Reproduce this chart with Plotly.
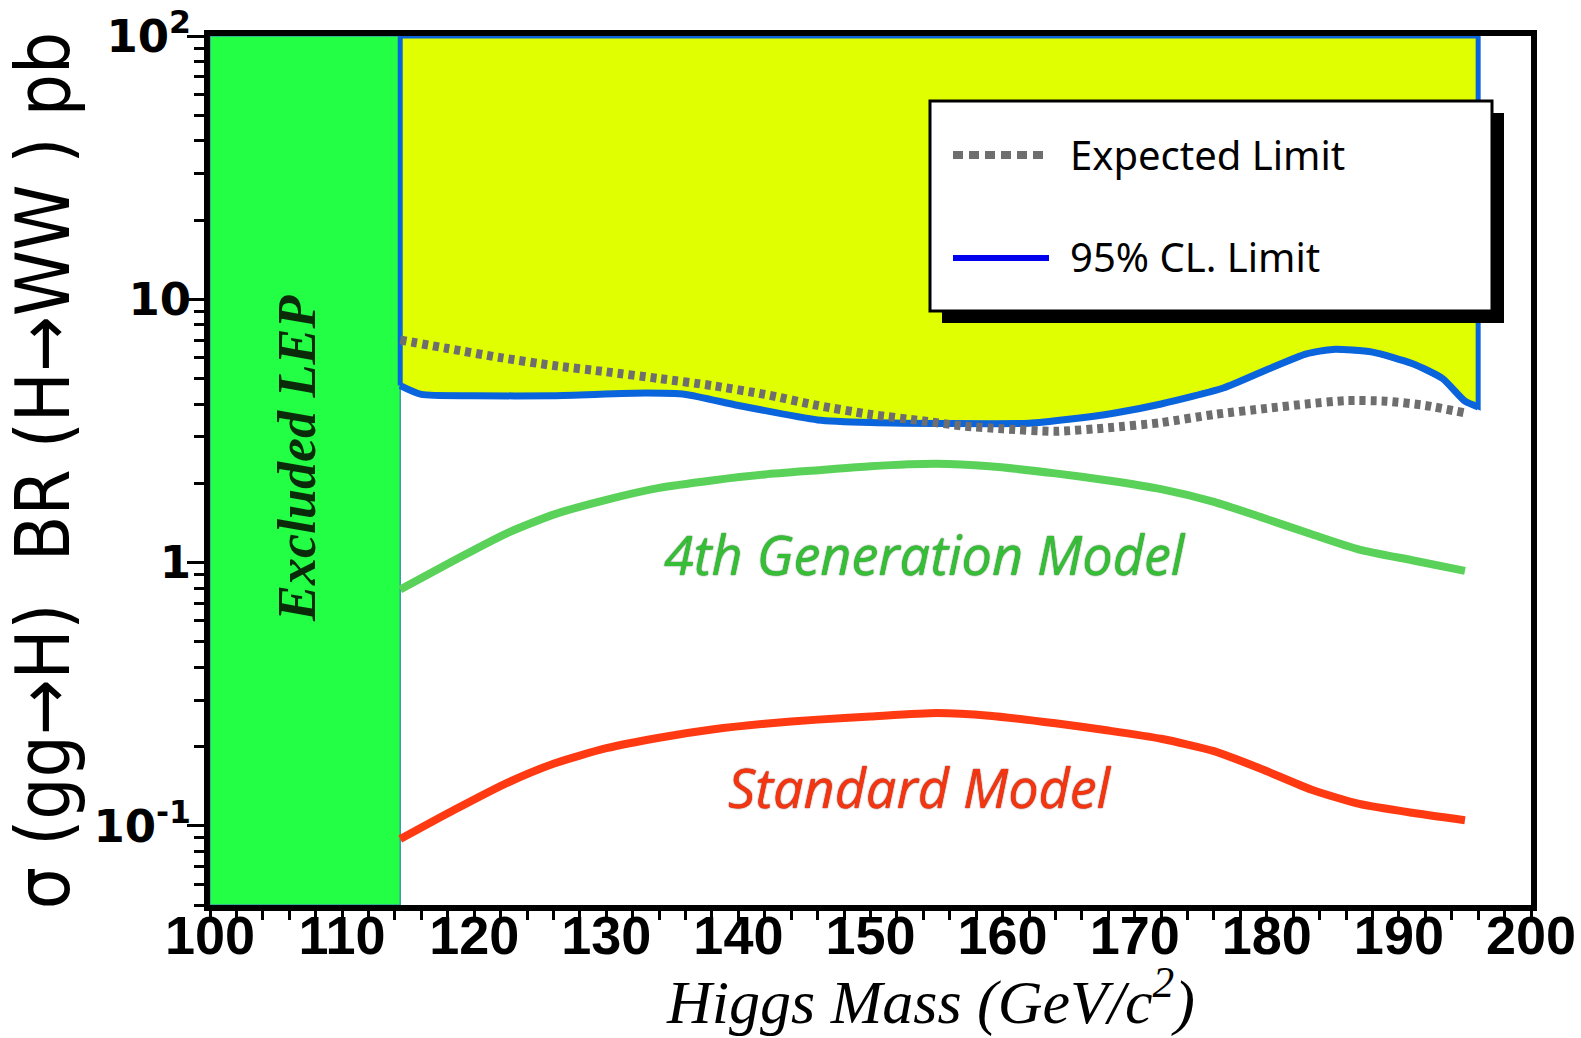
import plotly.graph_objects as go

# ---------------- data ----------------
lep_limit = 114.4          # LEP exclusion (GeV/c^2)
search_end = 196.0         # end of the excluded (yellow) region
x_range = [100, 200]
y_range = [0.05, 100]

obs_mass = [114.4, 116, 120, 126, 133, 136, 140, 146, 150, 156, 162, 165, 168.4,
            172, 176.7, 180, 183, 185, 188, 191, 193.3, 195, 196]
obs_limit = [4.7, 4.35, 4.3, 4.3, 4.4, 4.35, 3.95, 3.48, 3.4, 3.37, 3.38, 3.5, 3.69,
             4.0, 4.6, 5.4, 6.2, 6.45, 6.3, 5.7, 5.0, 4.1, 3.9]

exp_mass = [114.4, 118, 122, 126, 130, 134, 138, 142, 146, 150, 154, 157, 160, 164,
            168, 172, 176, 180, 183, 186, 189, 192, 195]
exp_limit = [7.0, 6.5, 6.0, 5.6, 5.3, 5.0, 4.7, 4.35, 3.95, 3.65, 3.45, 3.3, 3.22, 3.15,
             3.25, 3.4, 3.65, 3.85, 4.0, 4.12, 4.1, 3.95, 3.7]

model_mass = [114.4, 118.5, 122.3, 126, 130, 134, 138, 142, 146, 150, 155, 159, 164,
              168, 172, 176, 179.5, 183.4, 187, 191, 195]
fourth_gen = [0.79, 1.02, 1.28, 1.52, 1.73, 1.92, 2.05, 2.16, 2.24, 2.32, 2.37, 2.32,
              2.18, 2.05, 1.9, 1.7, 1.49, 1.28, 1.12, 1.02, 0.93]
standard_model = [0.089, 0.115, 0.144, 0.172, 0.197, 0.216, 0.232, 0.244, 0.253, 0.26,
                  0.268, 0.262, 0.245, 0.23, 0.214, 0.192, 0.165, 0.137, 0.121, 0.112,
                  0.105]

y_tickvals = [0.1, 1, 10, 100]
y_ticktext = ["10<sup>-1</sup>", "1", "10", "10<sup>2</sup>"]
x_tickvals = [100, 110, 120, 130, 140, 150, 160, 170, 180, 190, 200]

# ---------------- layout geometry ----------------
W, H = 1581, 1038
PL, PR, PT, PB = 210, 1531, 36, 905


def px(x):
    return (x - PL) / (PR - PL)


def py(y):
    return 1 - (y - PT) / (PB - PT)


fig = go.Figure()

# LEP excluded region
fig.add_trace(go.Scatter(
    x=[x_range[0], lep_limit, lep_limit, x_range[0], x_range[0]],
    y=[y_range[0], y_range[0], y_range[1], y_range[1], y_range[0]],
    fill="toself", fillcolor="#22ff44", mode="lines",
    line=dict(color="#3a9aa8", width=1.5), showlegend=False, hoverinfo="skip"))

# excluded region above observed limit
fig.add_trace(go.Scatter(
    x=obs_mass + [search_end, lep_limit, lep_limit],
    y=obs_limit + [y_range[1], y_range[1], obs_limit[0]],
    fill="toself", fillcolor="#e0ff00", mode="lines",
    line=dict(color="#0a64dc", width=5), showlegend=False, hoverinfo="skip"))

# observed limit
fig.add_trace(go.Scatter(
    x=obs_mass, y=obs_limit, mode="lines", name="95% CL. Limit",
    line=dict(color="#0a64dc", width=7, shape="spline", smoothing=0.6),
    showlegend=False))

# expected limit
fig.add_trace(go.Scatter(
    x=exp_mass, y=exp_limit, mode="lines", name="Expected Limit",
    line=dict(color="#6e6e6e", width=9, dash="6px,5px", shape="spline", smoothing=0.6),
    showlegend=False))

# 4th generation model
fig.add_trace(go.Scatter(
    x=model_mass, y=fourth_gen, mode="lines", name="4th Generation Model",
    line=dict(color="#5ad25a", width=8, shape="spline", smoothing=0.6),
    showlegend=False))

# Standard model
fig.add_trace(go.Scatter(
    x=model_mass, y=standard_model, mode="lines", name="Standard Model",
    line=dict(color="#ff3a12", width=8, shape="spline", smoothing=0.6),
    showlegend=False))

shapes = []
annotations = []

# legend box with shadow
shapes.append(dict(type="rect", xref="paper", yref="paper",
                   x0=px(942), x1=px(1504), y0=py(323), y1=py(113),
                   fillcolor="black", line=dict(width=0), layer="above"))
shapes.append(dict(type="rect", xref="paper", yref="paper",
                   x0=px(930), x1=px(1492), y0=py(311), y1=py(101),
                   fillcolor="white", line=dict(color="black", width=3), layer="above"))
shapes.append(dict(type="line", xref="paper", yref="paper",
                   x0=px(953), x1=px(1049), y0=py(155), y1=py(155),
                   line=dict(color="#6e6e6e", width=8, dash="10px,6px"), layer="above"))
shapes.append(dict(type="line", xref="paper", yref="paper",
                   x0=px(953), x1=px(1049), y0=py(258), y1=py(258),
                   line=dict(color="#0000ee", width=6), layer="above"))
legend_font = dict(family="Noto Sans, Open Sans, sans-serif", size=40, color="black")
annotations.append(dict(x=px(1068), y=py(155), xref="paper", yref="paper",
                        text="Expected Limit", showarrow=False, xanchor="left",
                        yanchor="middle", font=legend_font))
annotations.append(dict(x=px(1068), y=py(256), xref="paper", yref="paper",
                        text="95% CL. Limit", showarrow=False, xanchor="left",
                        yanchor="middle", font=legend_font))

# curve labels
annotations.append(dict(x=px(925), y=py(554), xref="paper", yref="paper",
                        text="<i>4th Generation Model</i>", showarrow=False,
                        xanchor="center", yanchor="middle",
                        font=dict(family="Open Sans, Noto Sans, sans-serif", size=54,
                                  color="#36bf36",
                                  shadow="0px 0px 1.5px #0b4d0b")))
annotations.append(dict(x=px(920), y=py(787), xref="paper", yref="paper",
                        text="<i>Standard Model</i>", showarrow=False,
                        xanchor="center", yanchor="middle",
                        font=dict(family="Open Sans, Noto Sans, sans-serif", size=54,
                                  color="#f53510",
                                  shadow="0px 0px 1.5px #5a0a00")))
annotations.append(dict(x=px(297), y=py(459), xref="paper", yref="paper",
                        text="<i><b>Excluded LEP</b></i>", showarrow=False, textangle=-90,
                        xanchor="center", yanchor="middle",
                        font=dict(family="Liberation Serif, DejaVu Serif, serif",
                                  size=54, color="#0a2a0a")))

# x-axis title (centred slightly right of the plot centre, as in the original)
annotations.append(dict(x=px(930), y=py(997), xref="paper", yref="paper",
                        text="<i>Higgs Mass (GeV/c<sup>2</sup>)</i>", showarrow=False,
                        xanchor="center", yanchor="middle",
                        font=dict(family="Liberation Serif, serif", size=62, color="black")))

# (cut-off) title at the very top
annotations.append(dict(x=px(1087), y=py(3), xref="paper", yref="paper",
                        text="CDF Run II Preliminary  \u222bL = 360 pb<sup>-1</sup>",
                        showarrow=False, xanchor="center", yanchor="bottom",
                        font=dict(family="Noto Sans, sans-serif", size=48, color="black")))

minor_y = [v * m for m in (0.01, 0.1, 1, 10) for v in range(2, 10)]
minor_y = [v for v in minor_y if y_range[0] <= v <= y_range[1]]

fig.update_layout(
    width=W, height=H,
    margin=dict(l=PL, r=W - PR, t=PT, b=H - PB, pad=0, autoexpand=False),
    paper_bgcolor="white", plot_bgcolor="white",
    shapes=shapes, annotations=annotations,
    showlegend=False,
    xaxis=dict(
        range=x_range, showgrid=False, zeroline=False, automargin=False,
        showline=True, linecolor="black", linewidth=6, mirror=True,
        tickmode="array", tickvals=x_tickvals,
        ticks="outside", ticklen=10, tickwidth=3, tickcolor="black",
        ticklabelstandoff=-32,
        minor=dict(ticks="outside", ticklen=9, tickwidth=3, tickcolor="black", dtick=2),
        tickfont=dict(family="Liberation Sans, Arial, sans-serif", size=54,
                      color="black", weight="bold"),
    ),
    yaxis=dict(
        type="log", range=[-1.30103, 2], showgrid=False, zeroline=False, automargin=False,
        showline=True, linecolor="black", linewidth=6, mirror=True,
        tickmode="array", tickvals=y_tickvals, ticktext=y_ticktext,
        ticks="outside", ticklen=17, tickwidth=3, tickcolor="black",
        ticklabelstandoff=-13,
        minor=dict(ticks="outside", ticklen=10, tickwidth=3, tickcolor="black",
                   tickvals=minor_y),
        tickfont=dict(family="DejaVu Sans, sans-serif", size=45, color="black",
                      weight="bold"),
        title=dict(text="\u03c3 (gg\u2192H)  BR (H\u2192WW ) pb", standoff=6,
                   font=dict(family="Liberation Sans Narrow, DejaVu Sans Condensed, sans-serif",
                             size=74, color="black")),
    ),
)

fig.write_html("out.html")
